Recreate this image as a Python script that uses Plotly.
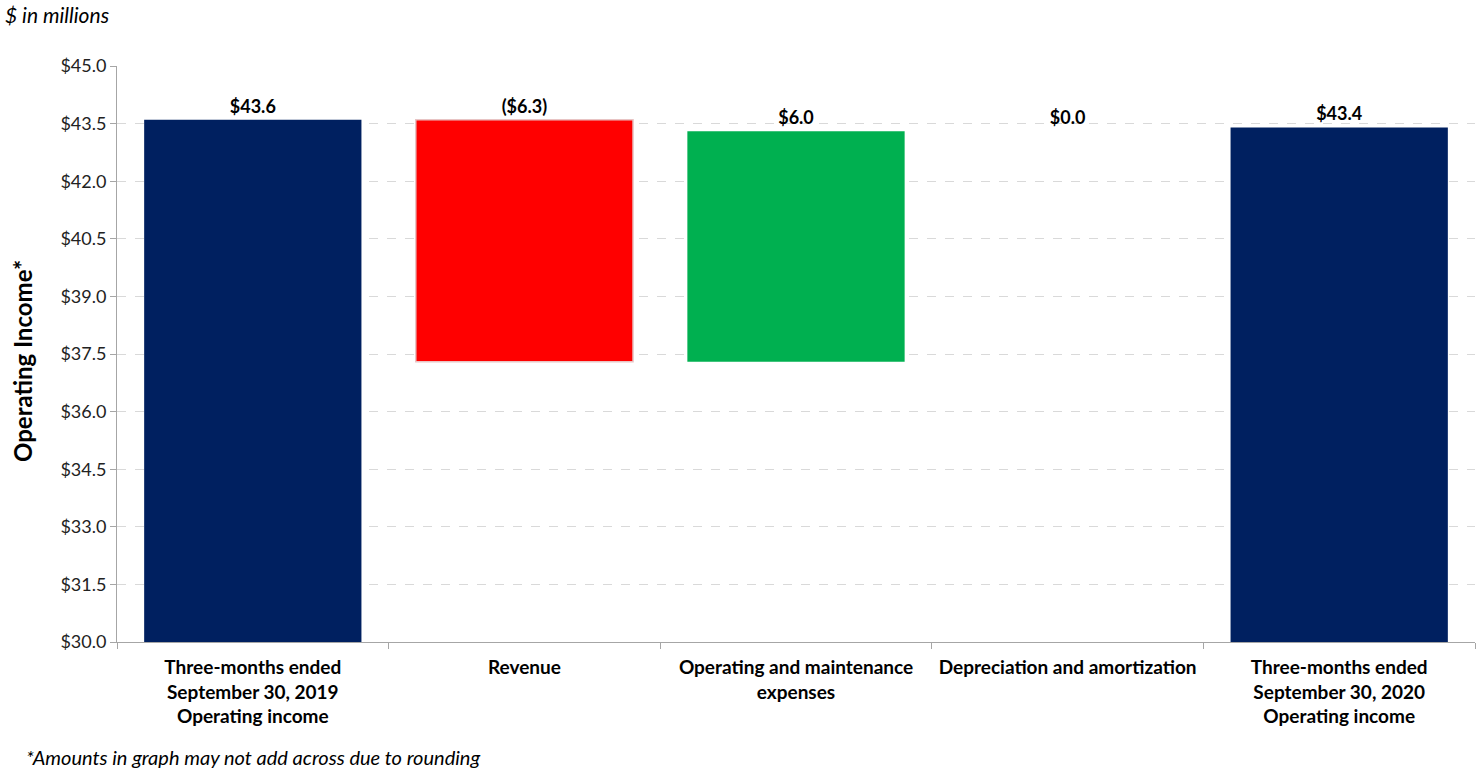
import plotly.graph_objects as go

categories = [
    "Three-months ended<br>September 30, 2019<br>Operating income",
    "Revenue",
    "Operating and maintenance<br>expenses",
    "Depreciation and amortization",
    "Three-months ended<br>September 30, 2020<br>Operating income",
]
start_value = 43.6
changes = [-6.3, 6.0, 0.0]
end_value = 43.4
label_texts = ["$43.6", "($6.3)", "$6.0", "$0.0", "$43.4"]
bar_colors = ["#002060", "#FF0000", "#00B050", "#00B050", "#002060"]
y_min, y_max, y_step = 30.0, 45.0, 1.5

# build bases / heights from the data
bases = [y_min]
heights = [start_value - y_min]
running = start_value
for c in changes:
    new = running + c
    bases.append(min(running, new))
    heights.append(abs(c))
    running = new
bases.append(y_min)
heights.append(end_value - y_min)

line_colors = ["rgba(0,0,0,0)", "#E8C4C4", "rgba(0,0,0,0)", "rgba(0,0,0,0)", "rgba(0,0,0,0)"]
line_widths = [0, 1.5, 0, 0, 0]

font_family = "Lato, 'Open Sans', sans-serif"

W, H = 1480, 772
L, R, T, B = 117, 5, 66, 130
PW, PH = W - L - R, H - T - B

fig = go.Figure(
    go.Bar(
        x=categories,
        y=heights,
        base=bases,
        width=0.8,
        marker=dict(color=bar_colors, line=dict(color=line_colors, width=line_widths)),
        text=label_texts,
        textposition="outside",
        textfont=dict(family=font_family, size=18, color="#000000"),
        texttemplate="<b>%{text}</b>",
        cliponaxis=False,
        hoverinfo="skip",
    )
)

fig.update_layout(
    width=W,
    height=H,
    margin=dict(l=L, r=R, t=T, b=B, autoexpand=False),
    paper_bgcolor="white",
    plot_bgcolor="white",
    showlegend=False,
    font=dict(family=font_family, color="#000000"),
    bargap=0.2,
)

fig.update_yaxes(
    range=[y_min, y_max],
    dtick=y_step,
    tick0=y_min,
    tickprefix="$",
    tickformat=".1f",
    tickfont=dict(size=18, color="#222222"),
    showgrid=True,
    gridcolor="#D9D9D9",
    griddash="dash",
    gridwidth=1,
    showline=True,
    linecolor="#A6A6A6",
    linewidth=1,
    ticks="outside",
    ticklen=6,
    tickcolor="#A6A6A6",
    zeroline=False,
    automargin=False,
)

fig.update_xaxes(
    showline=True,
    linecolor="#A6A6A6",
    linewidth=1,
    ticks="outside",
    ticklen=6,
    tickcolor="#A6A6A6",
    tickson="boundaries",
    tickfont=dict(size=19, color="#000000"),
    tickprefix="<b>",
    ticksuffix="</b>",
    ticklabelstandoff=8,
    showgrid=False,
    automargin=False,
)

# y-axis title
fig.add_annotation(
    text="<b>Operating Income*</b>", textangle=-90,
    x=(22 - L) / PW, y=(H - B - 361) / PH, xref="paper", yref="paper",
    xanchor="center", yanchor="middle", showarrow=False,
    font=dict(size=24, color="#000000"),
)
fig.add_annotation(
    text="<i>$ in millions</i>",
    x=(3 - L) / PW, y=1 + (T - 15) / PH, xref="paper", yref="paper",
    xanchor="left", yanchor="middle", showarrow=False,
    font=dict(size=21, color="#000000"),
)
fig.add_annotation(
    text="<i>*Amounts in graph may not add across due to rounding</i>",
    x=(24 - L) / PW, y=-(757 - (H - B)) / PH, xref="paper", yref="paper",
    xanchor="left", yanchor="middle", showarrow=False,
    font=dict(size=20, color="#000000"),
)

fig.write_html(
    "out.html",
    config={"displayModeBar": False},
    post_script="document.body.style.margin='0';document.body.style.overflow='hidden';",
)
